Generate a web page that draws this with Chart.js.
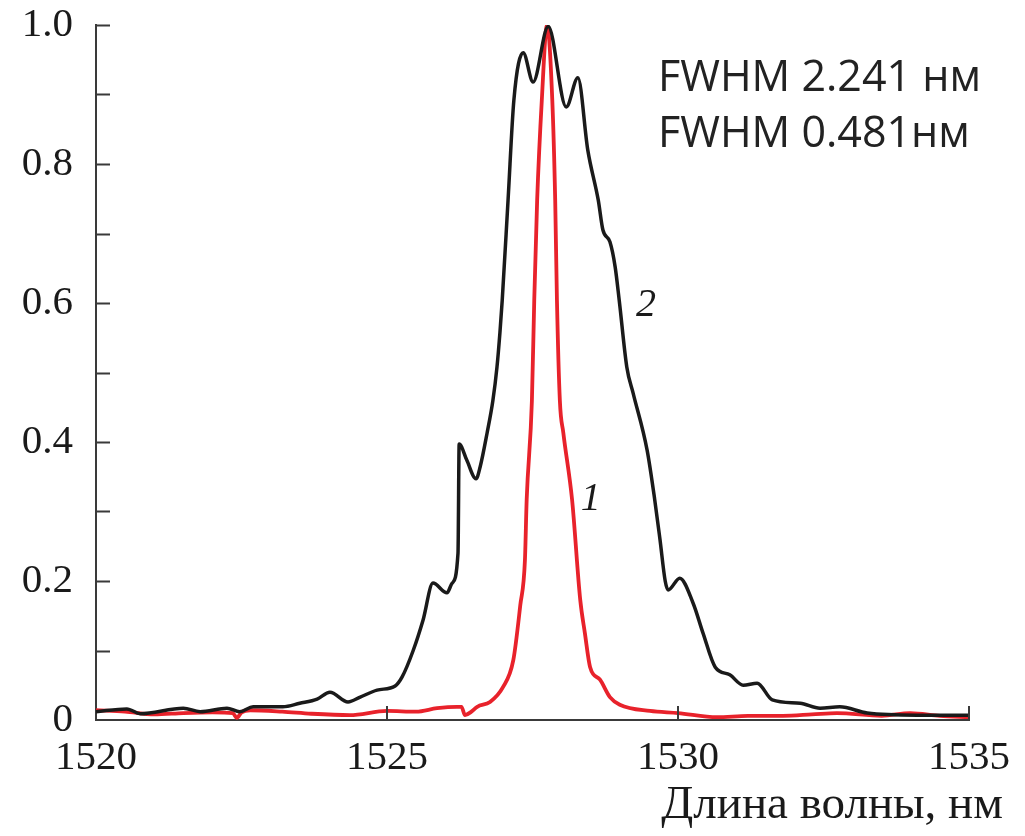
<!DOCTYPE html>
<html>
<head>
<meta charset="utf-8">
<script src="https://cdn.jsdelivr.net/npm/chart.js@4"></script>
<style>
    html, body { margin: 0; padding: 0; background: #ffffff; }
    #spectrum { display: block; }
</style>
</head>
<body>
<canvas id="spectrum" width="1025" height="836"></canvas>
<script>
// ===============================
// Spectra: curve 1 (red), curve 2 (black)
// ===============================
const wlBroad = [
    1520.0, 1520.53, 1520.76, 1521.5, 1521.79, 1522.25, 1522.47, 1522.7, 1523.21, 1523.5,
    1523.8, 1524.02, 1524.33, 1524.54, 1524.83, 1525.14, 1525.26, 1525.45, 1525.62, 1525.79,
    1526.03, 1526.12, 1526.22, 1526.24, 1526.37, 1526.53, 1526.6, 1526.72, 1526.82, 1526.89,
    1526.94, 1526.98, 1527.08, 1527.18, 1527.34, 1527.51, 1527.77, 1528.08, 1528.28, 1528.45,
    1528.63, 1528.71, 1528.83, 1528.92, 1528.99, 1529.12, 1529.23, 1529.47, 1529.6, 1529.69,
    1529.78, 1529.83, 1530.03, 1530.26, 1530.43, 1530.64, 1530.89, 1531.12, 1531.36, 1531.62,
    1532.1, 1532.44, 1532.78, 1533.25, 1534.11, 1535.0
];
const intBroad = [
    0.012, 0.016, 0.009, 0.017, 0.012, 0.017, 0.012, 0.019, 0.019, 0.024,
    0.030, 0.040, 0.026, 0.033, 0.043, 0.049, 0.062, 0.100, 0.144, 0.197,
    0.183, 0.197, 0.240, 0.397, 0.374, 0.347, 0.364, 0.413, 0.460, 0.508,
    0.557, 0.604, 0.748, 0.892, 0.960, 0.918, 0.998, 0.882, 0.924, 0.820,
    0.748, 0.705, 0.688, 0.652, 0.604, 0.508, 0.470, 0.388, 0.317, 0.260,
    0.200, 0.187, 0.204, 0.168, 0.125, 0.076, 0.065, 0.050, 0.053, 0.029,
    0.024, 0.017, 0.019, 0.010, 0.007, 0.007
];

const wlNarrow = [
    1520.0, 1520.5, 1521.0, 1521.5, 1522.0, 1522.35, 1522.42, 1522.5, 1522.65, 1523.2,
    1523.7, 1524.36, 1525.0, 1525.5, 1525.86, 1526.2, 1526.28, 1526.34, 1526.45, 1526.55,
    1526.77, 1526.99, 1527.17, 1527.29, 1527.37, 1527.4, 1527.49, 1527.53, 1527.58, 1527.66,
    1527.75, 1527.84, 1527.89, 1527.92, 1527.97, 1528.03, 1528.18, 1528.32, 1528.4, 1528.49,
    1528.66, 1528.83, 1529.0, 1529.52, 1530.0, 1530.67, 1531.2, 1531.8, 1532.3, 1532.73,
    1533.5, 1533.99, 1534.5, 1535.0
];
const intNarrow = [
    0.014, 0.012, 0.008, 0.010, 0.011, 0.010, 0.003, 0.011, 0.014, 0.012,
    0.009, 0.007, 0.013, 0.012, 0.017, 0.019, 0.019, 0.007, 0.012, 0.019,
    0.026, 0.047, 0.086, 0.165, 0.230, 0.317, 0.460, 0.604, 0.748, 0.892,
    1.000, 0.892, 0.748, 0.604, 0.460, 0.413, 0.317, 0.173, 0.125, 0.076,
    0.058, 0.033, 0.022, 0.013, 0.010, 0.004, 0.006, 0.006, 0.008, 0.010,
    0.006, 0.010, 0.006, 0.004
];

const xTickMarks = [1525, 1530, 1535];
const xTickLabels = [1520, 1525, 1530, 1535];
const fwhmLines = ["FWHM 2.241 нм", "FWHM 0.481нм"];
const axisTitleX = "Длина волны, нм";

function toPoints(xs, ys) {
    return xs.map((x, i) => ({ x: x, y: ys[i] }));
}

// inward tick marks, curve numbers, FWHM text
const decorPlugin = {
    id: "decor",
    afterDraw(chart) {
        const ctx = chart.ctx;
        const xs = chart.scales.x;
        const ys = chart.scales.y;
        const area = chart.chartArea;

        ctx.save();
        ctx.strokeStyle = "#3a3a3a";
        ctx.lineWidth = 2;
        ctx.beginPath();
        for (let k = 1; k <= 10; k++) {
            const py = Math.round(ys.getPixelForValue(k / 10)) + 0.5;
            ctx.moveTo(area.left, py);
            ctx.lineTo(area.left + 14, py);
        }
        xTickMarks.forEach(v => {
            const px = Math.round(xs.getPixelForValue(v));
            ctx.moveTo(px, area.bottom);
            ctx.lineTo(px, area.bottom - 14);
        });
        ctx.stroke();

        // curve numbers
        ctx.fillStyle = "#1a1a1a";
        ctx.font = "italic 40px 'Liberation Serif'";
        ctx.textAlign = "center";
        ctx.textBaseline = "middle";
        ctx.fillText("2", xs.getPixelForValue(1529.45), ys.getPixelForValue(0.597));
        ctx.fillText("1", xs.getPixelForValue(1528.5), ys.getPixelForValue(0.318));

        // FWHM note
        ctx.font = "43px 'Open Sans'";
        ctx.textAlign = "left";
        ctx.textBaseline = "alphabetic";
        ctx.fillStyle = "#222222";
        ctx.fillText(fwhmLines[0], 658, 91);
        ctx.fillText(fwhmLines[1], 658, 147);

        // x axis title
        ctx.font = "47px 'Liberation Serif'";
        ctx.textAlign = "right";
        ctx.fillStyle = "#1a1a1a";
        ctx.fillText(axisTitleX, 1003, 818);
        ctx.restore();
    }
};

const ctx = document.getElementById("spectrum");

new Chart(ctx, {
    type: "line",
    data: {
        datasets: [
            {
                label: "2",
                data: toPoints(wlBroad, intBroad),
                borderColor: "#1a1a1a",
                borderWidth: 3.5,
                pointRadius: 0,
                cubicInterpolationMode: "monotone",
                order: 0
            },
            {
                label: "1",
                data: toPoints(wlNarrow, intNarrow),
                borderColor: "#e8222b",
                borderWidth: 3.8,
                pointRadius: 0,
                cubicInterpolationMode: "monotone",
                order: 1
            }
        ]
    },
    options: {
        responsive: false,
        animation: false,
        layout: { padding: { top: 25, right: 56, left: 0, bottom: 0 } },
        plugins: {
            legend: { display: false },
            tooltip: { enabled: false }
        },
        scales: {
            x: {
                type: "linear",
                min: 1520,
                max: 1535,
                grid: { display: false, drawTicks: false },
                border: { color: "#3a3a3a", width: 2 },
                afterBuildTicks: scale => {
                    scale.ticks = xTickLabels.map(v => ({ value: v }));
                },
                afterFit: scale => {
                    scale.height = 116;
                    scale.paddingLeft = 0;
                    scale.paddingRight = 0;
                },
                ticks: {
                    padding: 14,
                    color: "#1a1a1a",
                    font: { family: "'Liberation Serif'", size: 41 },
                    maxRotation: 0,
                    callback: v => String(v)
                }
            },
            y: {
                min: 0,
                max: 1,
                grid: { display: false, drawTicks: false },
                border: { color: "#3a3a3a", width: 2 },
                afterFit: scale => {
                    scale.width = 96;
                    scale.paddingTop = 0;
                    scale.paddingBottom = 0;
                },
                ticks: {
                    stepSize: 0.2,
                    padding: 23,
                    color: "#1a1a1a",
                    font: { family: "'Liberation Serif'", size: 41 },
                    callback: v => (v === 0 ? "0" : v.toFixed(1))
                }
            }
        }
    },
    plugins: [decorPlugin]
});
</script>
</body>
</html>
